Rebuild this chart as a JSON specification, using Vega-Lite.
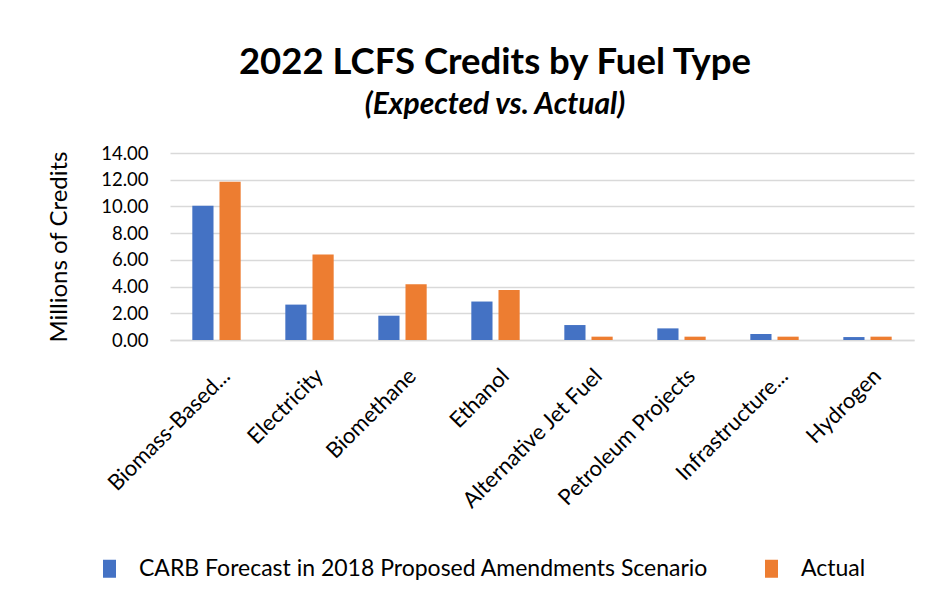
{
  "$schema": "https://vega.github.io/schema/vega-lite/v6.json",
  "width": 744,
  "height": 187,
  "autosize": {"type": "none"},
  "padding": {"left": 170, "top": 153, "right": 16, "bottom": 268},
  "background": "white",
  "title": {
    "text": "2022 LCFS Credits by Fuel Type",
    "subtitle": "(Expected vs. Actual)",
    "anchor": "middle",
    "dx": -47,
    "offset": 24,
    "font": "Lato",
    "fontSize": 36.5,
    "fontWeight": "bold",
    "color": "#000000",
    "subtitleFont": "Lato",
    "subtitleFontSize": 30,
    "subtitleFontWeight": "bold",
    "subtitleFontStyle": "italic",
    "subtitleColor": "#000000",
    "subtitlePadding": 9
  },
  "data": {
    "values": [
      {"fuel": "Biomass-Based...", "series": "CARB Forecast in 2018 Proposed Amendments Scenario", "value": 10.05},
      {"fuel": "Biomass-Based...", "series": "Actual", "value": 11.85},
      {"fuel": "Electricity", "series": "CARB Forecast in 2018 Proposed Amendments Scenario", "value": 2.65},
      {"fuel": "Electricity", "series": "Actual", "value": 6.4},
      {"fuel": "Biomethane", "series": "CARB Forecast in 2018 Proposed Amendments Scenario", "value": 1.82},
      {"fuel": "Biomethane", "series": "Actual", "value": 4.17},
      {"fuel": "Ethanol", "series": "CARB Forecast in 2018 Proposed Amendments Scenario", "value": 2.88},
      {"fuel": "Ethanol", "series": "Actual", "value": 3.75},
      {"fuel": "Alternative Jet Fuel", "series": "CARB Forecast in 2018 Proposed Amendments Scenario", "value": 1.12},
      {"fuel": "Alternative Jet Fuel", "series": "Actual", "value": 0.25},
      {"fuel": "Petroleum Projects", "series": "CARB Forecast in 2018 Proposed Amendments Scenario", "value": 0.87},
      {"fuel": "Petroleum Projects", "series": "Actual", "value": 0.25},
      {"fuel": "Infrastructure...", "series": "CARB Forecast in 2018 Proposed Amendments Scenario", "value": 0.45},
      {"fuel": "Infrastructure...", "series": "Actual", "value": 0.25},
      {"fuel": "Hydrogen", "series": "CARB Forecast in 2018 Proposed Amendments Scenario", "value": 0.22},
      {"fuel": "Hydrogen", "series": "Actual", "value": 0.25}
    ]
  },
  "mark": {"type": "bar"},
  "encoding": {
    "x": {
      "field": "fuel",
      "type": "nominal",
      "sort": null,
      "scale": {"paddingInner": 0.48, "paddingOuter": 0.24},
      "axis": {
        "title": null,
        "labelAngle": -45,
        "labelAlign": "right",
        "labelBaseline": "middle",
        "labelOffset": 10,
        "labelPadding": 32,
        "labelFont": "Lato",
        "labelFontSize": 22,
        "labelColor": "#000000",
        "labelLimit": 300,
        "ticks": false,
        "domain": true,
        "domainColor": "#d9d9d9",
        "domainWidth": 1.5
      }
    },
    "xOffset": {
      "field": "series",
      "type": "nominal",
      "sort": ["CARB Forecast in 2018 Proposed Amendments Scenario", "Actual"],
      "scale": {"paddingInner": 0.22, "paddingOuter": 0}
    },
    "y": {
      "field": "value",
      "type": "quantitative",
      "scale": {"domain": [0, 14]},
      "axis": {
        "title": "Millions of Credits",
        "titleFont": "Lato",
        "titleFontSize": 24,
        "titleFontWeight": "normal",
        "titleColor": "#000000",
        "titlePadding": 29,
        "values": [0, 2, 4, 6, 8, 10, 12, 14],
        "format": ".2f",
        "labelFont": "Lato",
        "labelFontSize": 18.5,
        "labelColor": "#000000",
        "labelPadding": 22,
        "ticks": false,
        "domain": false,
        "grid": true,
        "gridColor": "#d9d9d9",
        "gridWidth": 1.5
      }
    },
    "color": {
      "field": "series",
      "type": "nominal",
      "sort": ["CARB Forecast in 2018 Proposed Amendments Scenario", "Actual"],
      "scale": {
        "domain": ["CARB Forecast in 2018 Proposed Amendments Scenario", "Actual"],
        "range": ["#4472C4", "#ED7D31"]
      },
      "legend": {
        "title": null,
        "orient": "none",
        "direction": "horizontal",
        "legendX": -72,
        "legendY": 404,
        "symbolType": "M-0.72,-1L0.72,-1L0.72,1L-0.72,1Z",
        "symbolSize": 324,
        "symbolStrokeWidth": 0,
        "labelFont": "Lato",
        "labelFontSize": 23,
        "labelColor": "#000000",
        "labelOffset": 18,
        "columnPadding": 51,
        "labelLimit": 700
      }
    }
  },
  "config": {
    "view": {"stroke": null}
  }
}
